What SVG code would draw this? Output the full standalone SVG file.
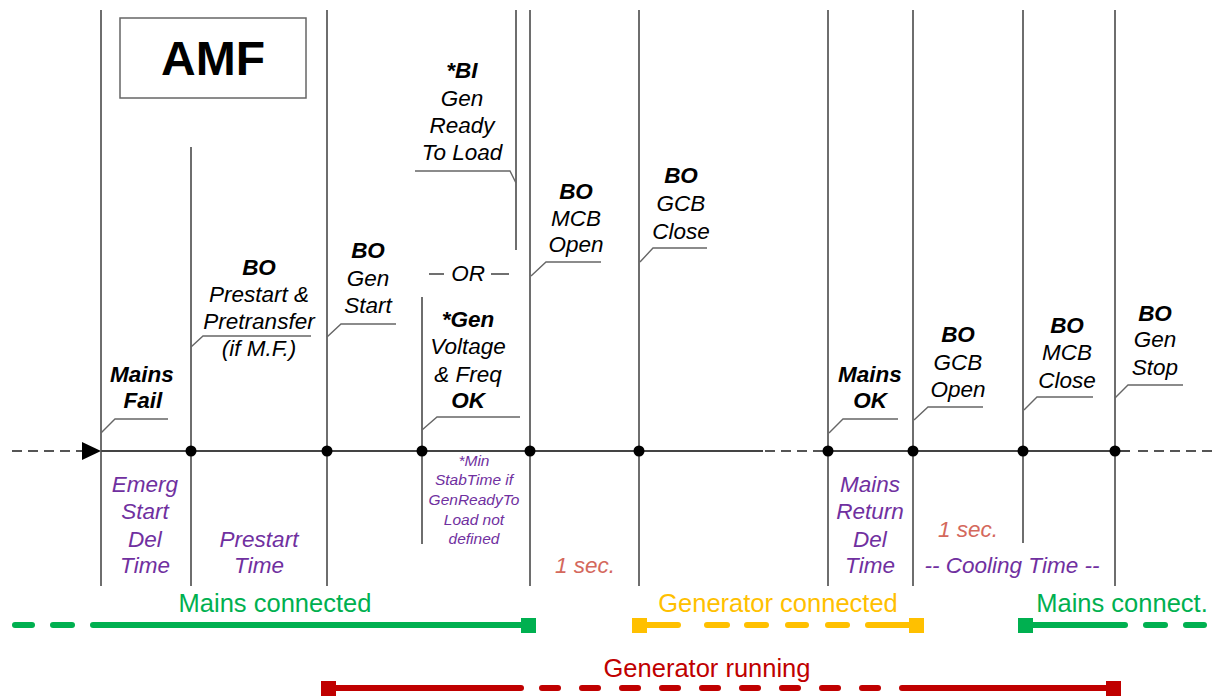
<svg xmlns="http://www.w3.org/2000/svg" width="1218" height="698" viewBox="0 0 1218 698">
<style>
.v{stroke:#4a4a4a;stroke-width:1.6;fill:none}
.ld{stroke:#666;stroke-width:1.4;fill:none}
.dot{fill:#000}
.tl{stroke:#444;stroke-width:1.8}
.tld{stroke:#555;stroke-width:1.8;stroke-dasharray:10 6}
.t{font-family:"Liberation Sans",Arial,sans-serif;font-size:22.5px;font-style:italic;fill:#000;text-anchor:middle}
.b{font-weight:bold}
.p{fill:#7030a0}
.s{fill:#d4685c}
.sm{font-size:15.5px}
.bar{font-family:"Liberation Sans",Arial,sans-serif;font-size:25.5px;text-anchor:middle}
.g{stroke:#00b050;stroke-width:6;stroke-linecap:round;fill:none}
.o{stroke:#ffc000;stroke-width:6;stroke-linecap:round;fill:none}
.r{stroke:#c00000;stroke-width:6;stroke-linecap:round;fill:none}
</style>
<rect width="1218" height="698" fill="#fff"/>

<g id="title">
<rect x="120" y="18" width="186" height="80" fill="#fff" stroke="#666" stroke-width="1.5"/>
<text x="213" y="75" font-family="Liberation Sans,Arial,sans-serif" font-size="48" font-weight="bold" text-anchor="middle">AMF</text>
</g>

<g id="connectors">
<line class="tld" x1="12" y1="451" x2="82" y2="451"/>
<polygon points="82,442 101,451 82,460" fill="#000"/>
<line class="tl" x1="101" y1="451" x2="763" y2="451"/>
<line class="tld" x1="765" y1="451" x2="828" y2="451"/>
<line class="tl" x1="828" y1="451" x2="1130" y2="451"/>
<line class="tld" x1="1138" y1="451" x2="1218" y2="451"/>
</g>

<g id="mains-fail">
<line class="v" x1="101" y1="10" x2="101" y2="586"/>
<polyline class="ld" points="101,433 115,419 168,419"/>
<text class="t b" x="142" y="382">Mains</text>
<text class="t b" x="143" y="408">Fail</text>
<text class="t p" x="145" y="492">Emerg</text>
<text class="t p" x="145" y="519">Start</text>
<text class="t p" x="145" y="547">Del</text>
<text class="t p" x="145" y="573">Time</text>
</g>

<g id="prestart">
<line class="v" x1="191" y1="147" x2="191" y2="586"/>
<circle class="dot" cx="191" cy="451" r="5.5"/>
<polyline class="ld" points="191,347 203,336 311,336"/>
<text class="t b" x="259" y="275">BO</text>
<text class="t" x="259" y="302">Prestart &amp;</text>
<text class="t" x="259" y="329">Pretransfer</text>
<text class="t" x="259" y="356">(if M.F.)</text>
<text class="t p" x="259" y="547">Prestart</text>
<text class="t p" x="259" y="573">Time</text>
</g>

<g id="gen-start">
<line class="v" x1="327" y1="10" x2="327" y2="586"/>
<circle class="dot" cx="327" cy="451" r="5.5"/>
<polyline class="ld" points="327,337 341,324 396,324"/>
<text class="t b" x="368" y="258">BO</text>
<text class="t" x="368" y="286">Gen</text>
<text class="t" x="368" y="313">Start</text>
</g>

<g id="gen-voltage-ok">
<line class="v" x1="422" y1="297" x2="422" y2="544"/>
<circle class="dot" cx="422" cy="451" r="5.5"/>
<polyline class="ld" points="422,430 437,417 520,417"/>
<text class="t b" x="468" y="327">*Gen</text>
<text class="t" x="468" y="354">Voltage</text>
<text class="t" x="468" y="382">&amp; Freq</text>
<text class="t b" x="468" y="408">OK</text>
<text class="t p sm" x="474" y="466">*Min</text>
<text class="t p sm" x="474" y="485">StabTime if</text>
<text class="t p sm" x="474" y="505">GenReadyTo</text>
<text class="t p sm" x="474" y="525">Load not</text>
<text class="t p sm" x="474" y="544">defined</text>
</g>

<g id="or">
<line x1="429" y1="274" x2="444" y2="274" stroke="#333" stroke-width="1.4"/>
<line x1="491" y1="274" x2="509" y2="274" stroke="#333" stroke-width="1.4"/>
<text class="t" x="468" y="281">OR</text>
</g>

<g id="gen-ready-to-load">
<line class="v" x1="516" y1="10" x2="516" y2="250"/>
<polyline class="ld" points="415,171 510,171 516,183"/>
<text class="t b" x="462" y="78">*BI</text>
<text class="t" x="462" y="106">Gen</text>
<text class="t" x="462" y="133">Ready</text>
<text class="t" x="462" y="160">To Load</text>
</g>

<g id="mcb-open">
<line class="v" x1="530" y1="10" x2="530" y2="586"/>
<circle class="dot" cx="530" cy="451" r="5.5"/>
<polyline class="ld" points="531,276 546,262 601,262"/>
<text class="t b" x="576" y="199">BO</text>
<text class="t" x="576" y="226">MCB</text>
<text class="t" x="576" y="252">Open</text>
<text class="t s" x="585" y="573">1 sec.</text>
</g>

<g id="gcb-close">
<line class="v" x1="639" y1="10" x2="639" y2="586"/>
<circle class="dot" cx="639" cy="451" r="5.5"/>
<polyline class="ld" points="640,262 653,248 707,248"/>
<text class="t b" x="681" y="183">BO</text>
<text class="t" x="681" y="211">GCB</text>
<text class="t" x="681" y="239">Close</text>
</g>

<g id="mains-ok">
<line class="v" x1="828" y1="10" x2="828" y2="586"/>
<circle class="dot" cx="828" cy="451" r="5.5"/>
<polyline class="ld" points="829,433 843,419 898,419"/>
<text class="t b" x="870" y="382">Mains</text>
<text class="t b" x="870" y="408">OK</text>
<text class="t p" x="870" y="492">Mains</text>
<text class="t p" x="870" y="519">Return</text>
<text class="t p" x="870" y="547">Del</text>
<text class="t p" x="870" y="573">Time</text>
</g>

<g id="gcb-open">
<line class="v" x1="913" y1="10" x2="913" y2="586"/>
<circle class="dot" cx="913" cy="451" r="5.5"/>
<polyline class="ld" points="914,420 928,407 983,407"/>
<text class="t b" x="958" y="342">BO</text>
<text class="t" x="958" y="370">GCB</text>
<text class="t" x="958" y="397">Open</text>
<text class="t s" x="968" y="537">1 sec.</text>
<text class="t p" x="1012" y="573">-- Cooling Time --</text>
</g>

<g id="mcb-close">
<line class="v" x1="1023" y1="10" x2="1023" y2="543"/>
<circle class="dot" cx="1023" cy="451" r="5.5"/>
<polyline class="ld" points="1024,410 1037,397 1093,397"/>
<text class="t b" x="1067" y="333">BO</text>
<text class="t" x="1067" y="360">MCB</text>
<text class="t" x="1067" y="388">Close</text>
</g>

<g id="gen-stop">
<line class="v" x1="1115" y1="10" x2="1115" y2="586"/>
<circle class="dot" cx="1115" cy="451" r="5.5"/>
<polyline class="ld" points="1115,398 1128,385 1183,385"/>
<text class="t b" x="1155" y="321">BO</text>
<text class="t" x="1155" y="347">Gen</text>
<text class="t" x="1155" y="375">Stop</text>
</g>

<g id="mains-connected">
<text class="bar" x="275" y="612" fill="#00b050">Mains connected</text>
<line class="g" x1="15" y1="625" x2="32" y2="625"/>
<line class="g" x1="53" y1="625" x2="72" y2="625"/>
<line class="g" x1="93" y1="625" x2="522" y2="625"/>
<rect x="521" y="618" width="15" height="15" fill="#00b050"/>
</g>

<g id="generator-connected">
<text class="bar" x="778" y="612" fill="#ffc000">Generator connected</text>
<rect x="632" y="618" width="15" height="15" fill="#ffc000"/>
<line class="o" x1="647" y1="625" x2="678" y2="625"/>
<line class="o" x1="707" y1="625" x2="727" y2="625"/>
<line class="o" x1="747" y1="625" x2="766" y2="625"/>
<line class="o" x1="788" y1="625" x2="806" y2="625"/>
<line class="o" x1="828" y1="625" x2="847" y2="625"/>
<line class="o" x1="868" y1="625" x2="909" y2="625"/>
<rect x="909" y="618" width="15" height="15" fill="#ffc000"/>
</g>

<g id="mains-connect-2">
<text class="bar" x="1122" y="612" fill="#00b050">Mains connect.</text>
<rect x="1018" y="618" width="15" height="15" fill="#00b050"/>
<line class="g" x1="1033" y1="625" x2="1125" y2="625"/>
<line class="g" x1="1146" y1="625" x2="1165" y2="625"/>
<line class="g" x1="1186" y1="625" x2="1204" y2="625"/>
</g>

<g id="generator-running">
<text class="bar" x="707" y="677" fill="#c00000">Generator running</text>
<rect x="321" y="681" width="15" height="15" fill="#c00000"/>
<line class="r" x1="336" y1="688" x2="521" y2="688"/>
<line class="r" x1="542" y1="688" x2="558" y2="688"/>
<line class="r" x1="582" y1="688" x2="598" y2="688"/>
<line class="r" x1="622" y1="688" x2="638" y2="688"/>
<line class="r" x1="662" y1="688" x2="678" y2="688"/>
<line class="r" x1="702" y1="688" x2="718" y2="688"/>
<line class="r" x1="742" y1="688" x2="758" y2="688"/>
<line class="r" x1="782" y1="688" x2="798" y2="688"/>
<line class="r" x1="822" y1="688" x2="838" y2="688"/>
<line class="r" x1="862" y1="688" x2="878" y2="688"/>
<line class="r" x1="902" y1="688" x2="1106" y2="688"/>
<rect x="1106" y="681" width="15" height="15" fill="#c00000"/>
</g>
</svg>
